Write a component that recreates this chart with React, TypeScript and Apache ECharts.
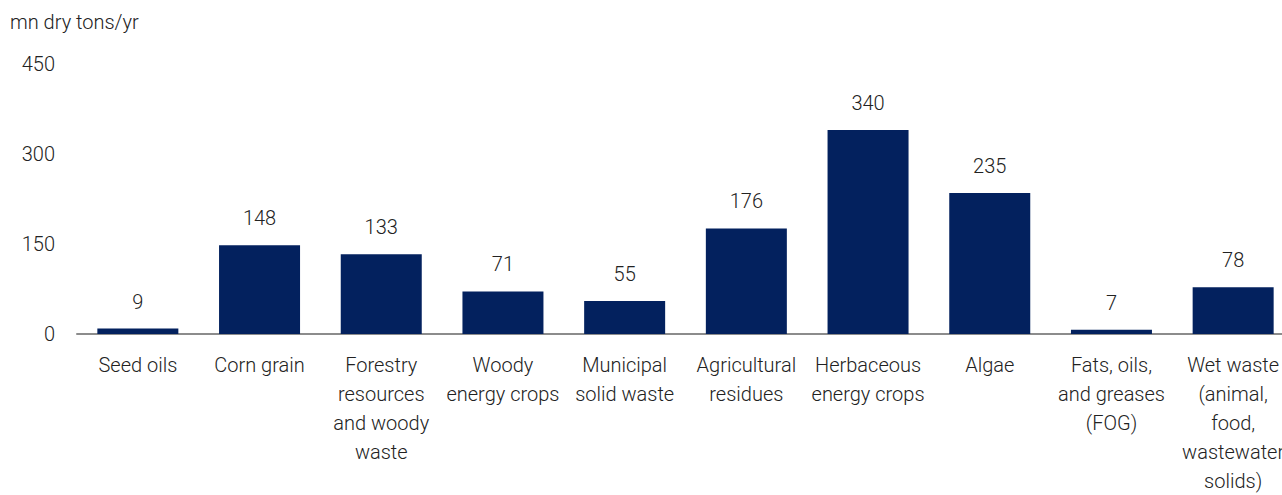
import React, { useEffect, useRef } from "react";
import * as echarts from "echarts";

const categories = [
  "Seed oils",
  "Corn grain",
  "Forestry\nresources\nand woody\nwaste",
  "Woody\nenergy crops",
  "Municipal\nsolid waste",
  "Agricultural\nresidues",
  "Herbaceous\nenergy crops",
  "Algae",
  "Fats, oils,\nand greases\n(FOG)",
  "Wet waste\n(animal,\nfood,\nwastewater\nsolids)",
];
const values = [9, 148, 133, 71, 55, 176, 340, 235, 7, 78];
const yTicks = [0, 150, 300, 450];
const unitLabel = "mn dry tons/yr";

const FONT = "Roboto";
const TEXT = "#222222";
const FS = 20;
const FW = 300;

export default function App() {
  const ref = useRef<HTMLDivElement>(null);
  useEffect(() => {
    if (!ref.current) return;
    const chart = echarts.init(ref.current, undefined, { renderer: "svg" });
    chart.setOption({
      animation: false,
      textStyle: { fontFamily: FONT },
      graphic: [
        {
          type: "text",
          left: 10,
          top: 12,
          style: {
            text: unitLabel,
            fontFamily: FONT,
            fontSize: FS,
            fontWeight: FW,
            fill: TEXT,
          },
        },
      ],
      grid: { left: 77, right: 0, top: 64, bottom: 155, containLabel: false },
      xAxis: {
        type: "category",
        data: categories,
        axisLine: { lineStyle: { color: "#8c8c8c", width: 2 } },
        axisTick: { show: false },
        axisLabel: {
          interval: 0,
          fontFamily: FONT,
          fontSize: FS,
          fontWeight: FW,
          color: TEXT,
          lineHeight: 29,
          margin: 16,
          align: "center",
        },
      },
      yAxis: {
        type: "value",
        min: yTicks[0],
        max: yTicks[yTicks.length - 1],
        interval: 150,
        splitLine: { show: false },
        axisLine: { show: false },
        axisTick: { show: false },
        axisLabel: {
          fontFamily: FONT,
          fontSize: FS,
          fontWeight: FW,
          color: TEXT,
          margin: 22,
        },
      },
      series: [
        {
          type: "bar",
          data: values,
          barWidth: 81,
          itemStyle: { color: "#03215E" },
          label: {
            show: true,
            position: "top",
            distance: 17,
            fontFamily: FONT,
            fontSize: FS,
            fontWeight: FW,
            color: TEXT,
          },
        },
      ],
    });
    return () => chart.dispose();
  }, []);
  return (
    <div
      style={{
        position: "absolute",
        left: 0,
        top: 0,
        width: 1282,
        height: 495,
        overflow: "hidden",
      }}
    >
      <div ref={ref} style={{ width: 1294, height: 495 }} />
    </div>
  );
}
